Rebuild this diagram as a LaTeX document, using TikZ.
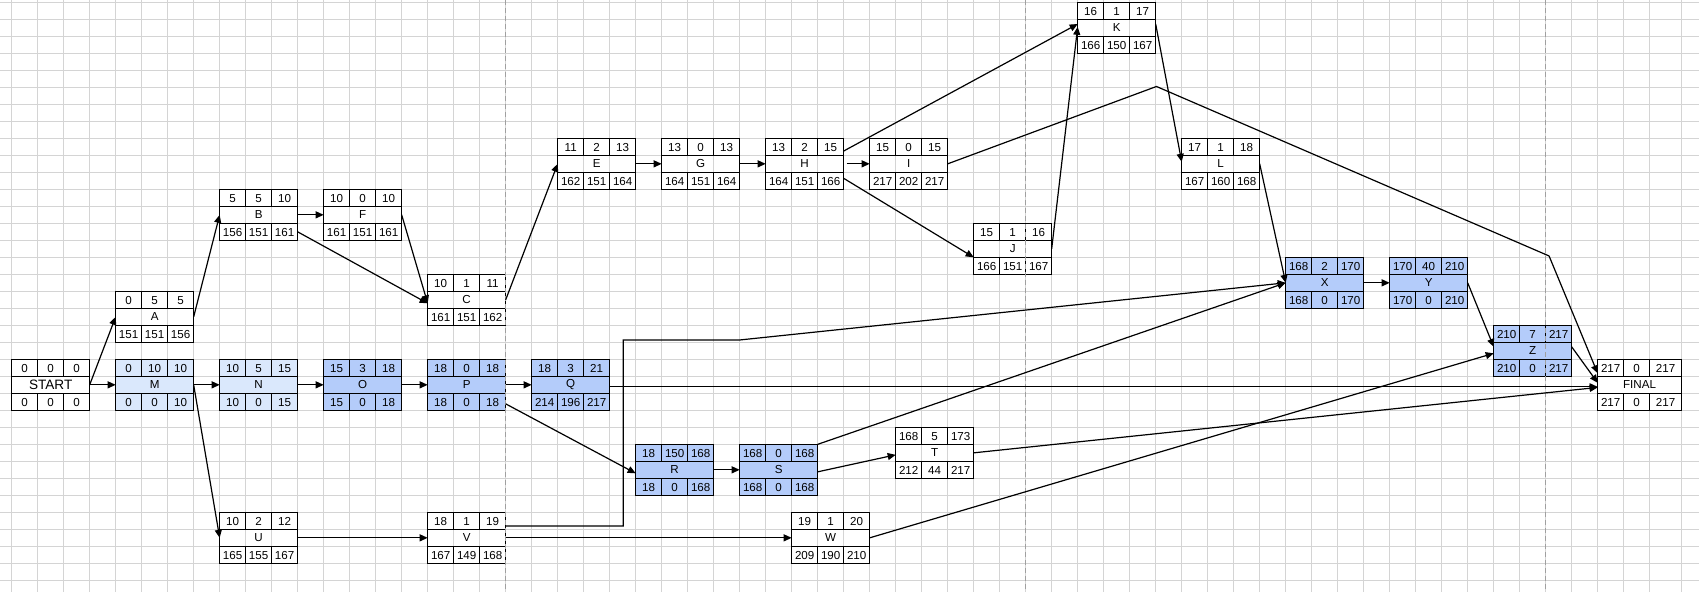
\documentclass[tikz,border=0pt]{standalone}
\usepackage{fontspec}
\setmainfont{Liberation Sans}
\usetikzlibrary{arrows.meta}
\definecolor{gridgray}{RGB}{212,212,212}
\definecolor{breakgray}{RGB}{160,160,160}
\definecolor{lightblue}{RGB}{218,232,252}
\definecolor{midblue}{RGB}{180,204,250}

\newcommand{\act}[7][1]{%
\pgfmathsetmacro{\actw}{(2+#1)*13}
\node[box,fill=#5,minimum width=\actw pt,every #2/.try] (#2) at ({#3+1+#1/2},{#4+1.5}) {#2};
\draw[line width=0.65pt] (#3,#4+1) -- ++(2+#1,0) (#3,#4+2) -- ++(2+#1,0);
\foreach \k in {1,2}
\draw[line width=0.65pt] (#3+\k,#4) -- ++(0,1) (#3+\k,#4+2) -- ++(0,1);
\foreach \v [count=\i] in {#6}
\node[num] at ({#3+\i-0.5+(\i==3)*(#1-1)/2},#4+0.5) {\v};
\foreach \v [count=\i] in {#7}
\node[num] at ({#3+\i-0.5+(\i==3)*(#1-1)/2},#4+2.5) {\v};
}

\begin{document}
\begin{tikzpicture}[x=13pt,y=-8.5pt,
  every node/.style={font=\fontsize{5.8}{7}\selectfont,inner sep=0pt,outer sep=0pt},
  every START/.style={font=\fontsize{6.8}{8}\selectfont},
  box/.style={draw,line width=0.65pt,minimum height=25.5pt},
  num/.style={yshift=-0.4pt},
  arr/.style={-{Triangle[length=4pt,width=3.5pt]},line width=0.6pt}]
\useasboundingbox (-0.4488,-0.137) rectangle (64.897,34.686);

\foreach \k in {0,...,63}
\draw[gridgray,line width=0.5pt] (\k,-0.14) -- (\k,34.69);
\draw[gridgray,line width=0.5pt] (64.218,-0.14) -- (64.218,34.69);
\foreach \k in {0,...,34}
\draw[gridgray,line width=0.5pt] (-0.45,\k) -- (64.9,\k);

\act{START}{0}{21}{white}{0,0,0}{0,0,0}
\act{A}{4}{17}{none}{0,5,5}{151,151,156}
\act{M}{4}{21}{lightblue}{0,10,10}{0,0,10}
\act{N}{8}{21}{lightblue}{10,5,15}{10,0,15}
\act{O}{12}{21}{midblue}{15,3,18}{15,0,18}
\act{P}{16}{21}{midblue}{18,0,18}{18,0,18}
\act{Q}{20}{21}{midblue}{18,3,21}{214,196,217}
\act{B}{8}{11}{none}{5,5,10}{156,151,161}
\act{F}{12}{11}{none}{10,0,10}{161,151,161}
\act{C}{16}{16}{none}{10,1,11}{161,151,162}
\act{E}{21}{8}{none}{11,2,13}{162,151,164}
\act{G}{25}{8}{none}{13,0,13}{164,151,164}
\act{H}{29}{8}{none}{13,2,15}{164,151,166}
\act{I}{33}{8}{none}{15,0,15}{217,202,217}
\act{J}{37}{13}{none}{15,1,16}{166,151,167}
\act{K}{41}{0}{none}{16,1,17}{166,150,167}
\act{L}{45}{8}{none}{17,1,18}{167,160,168}
\act{X}{49}{15}{midblue}{168,2,170}{168,0,170}
\act{Y}{53}{15}{midblue}{170,40,210}{170,0,210}
\act{Z}{57}{19}{midblue}{210,7,217}{210,0,217}
\act[1.218]{FINAL}{61}{21}{white}{217,0,217}{217,0,217}
\act{R}{24}{26}{midblue}{18,150,168}{18,0,168}
\act{S}{28}{26}{midblue}{168,0,168}{168,0,168}
\act{T}{34}{25}{none}{168,5,173}{212,44,217}
\act{U}{8}{30}{none}{10,2,12}{165,155,167}
\act{V}{16}{30}{none}{18,1,19}{167,149,168}
\act{W}{30}{30}{none}{19,1,20}{209,190,210}

\foreach \k in {19,39,59}
\draw[breakgray,line width=0.5pt,dash pattern=on 2.5pt off 1.5pt] (\k,-0.14) -- (\k,34.69);

\draw[arr] (START.east) -- (A.west);
\draw[arr] (START.east) -- (M.west);
\draw[arr] (A.east) -- (B.west);
\draw[arr] (M.east) -- (N.west);
\draw[arr] (M.east) -- (U.west);
\draw[arr] (B.east) -- (F.west);
\draw[arr] ([yshift=-8.5pt]B.east) -- ([yshift=-1.75pt]C.west);
\draw[arr] (F.east) -- ([yshift=-1.75pt]C.west);
\draw[arr] (C.east) -- (E.west);
\draw[arr] (E.east) -- (G.west);
\draw[arr] (G.east) -- (H.west);
\draw[arr] ([xshift=1.5pt]H.east) -- (I.west);
\draw[arr] ([yshift=6.4pt]H.east) -- ([yshift=1.9pt]K.west);
\draw[arr] ([yshift=-7.25pt]H.east) -- ([yshift=-4.25pt]J.west);
\draw[arr] (J.east) -- ([yshift=0.5pt]K.west);
\draw[arr] ([yshift=1.9pt]K.east) -- ([yshift=1pt]L.west);
\draw[arr] (I.east) -- (44.03,4.95) -- (59.13,14.92) -- ([yshift=5.75pt]FINAL.west);
\draw[arr] (L.east) -- (X.west);
\draw[arr] (X.east) -- (Y.west);
\draw[arr] (Y.east) -- ([yshift=2pt]Z.west);
\draw[arr] ([yshift=2pt]Z.east) -- ([yshift=1pt]FINAL.west);
\draw[arr] (N.east) -- (O.west);
\draw[arr] (O.east) -- (P.west);
\draw[arr] (P.east) -- (Q.west);
\draw[arr] ([yshift=-9.5pt]P.east) -- ([yshift=-1.75pt]R.west);
\draw[arr] ([yshift=-1pt]Q.east) -- ([yshift=-1pt]FINAL.west);
\draw[arr] (R.east) -- (S.west);
\draw[arr] (S.north east) -- (X.west);
\draw[arr] ([yshift=-1pt]S.east) -- ([yshift=-1pt]T.west);
\draw[arr] (T.east) -- ([yshift=-1.3pt]FINAL.west);
\draw[arr] (U.east) -- (V.west);
\draw[arr] ([yshift=5.9pt]V.east) -| (23.52,19.86) -- (28.01,19.86) -- (X.west);
\draw[arr] (V.east) -- (W.west);
\draw[arr] (W.east) -- ([yshift=-1.25pt]Z.west);
\end{tikzpicture}
\end{document}
